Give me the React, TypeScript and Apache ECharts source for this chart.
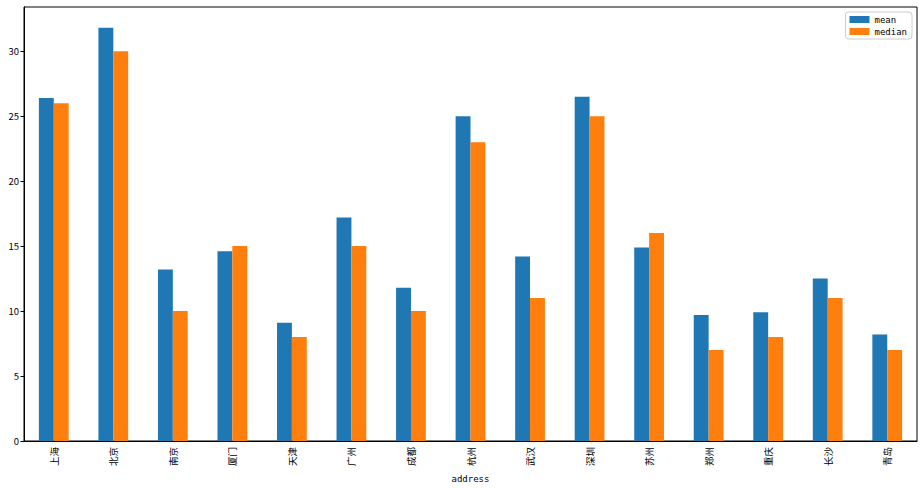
import React, { useEffect, useRef } from "react";
import * as echarts from "echarts";

const categories = ["上海", "北京", "南京", "厦门", "天津", "广州", "成都", "杭州", "武汉", "深圳", "苏州", "郑州", "重庆", "长沙", "青岛"];
const meanValues = [26.4, 31.8, 13.2, 14.6, 9.1, 17.2, 11.8, 25.0, 14.2, 26.5, 14.9, 9.7, 9.9, 12.5, 8.2];
const medianValues = [26, 30, 10, 15, 8, 15, 10, 23, 11, 25, 16, 7, 8, 11, 7];
const yTicks = [0, 5, 10, 15, 20, 25, 30];

const FONT = "'Noto Sans CJK SC', 'DejaVu Sans', sans-serif";
const MONO = "'DejaVu Sans Mono', 'Liberation Mono', monospace";

export default function App() {
  const ref = useRef<HTMLDivElement>(null);
  useEffect(() => {
    document.body.style.margin = "0";
    const chart = echarts.init(ref.current!, null, { renderer: "svg" });
    chart.setOption({
      animation: false,
      backgroundColor: "#fff",
      textStyle: { fontFamily: FONT },
      grid: {
        left: 24,
        right: 7,
        top: 7,
        bottom: 46,
        show: true,
        borderColor: "#000",
        borderWidth: 1,
        backgroundColor: "transparent",
      },
      legend: {
        orient: "vertical",
        right: 12,
        top: 12,
        itemWidth: 20,
        itemHeight: 7,
        itemGap: 3,
        borderColor: "#ccc",
        borderWidth: 1,
        borderRadius: 3,
        padding: [3, 5, 3, 4],
        icon: "rect",
        textStyle: { fontFamily: MONO, fontSize: 9, color: "#000" },
        data: ["mean", "median"],
      },
      xAxis: {
        type: "category",
        data: categories,
        boundaryGap: true,
        name: "address",
        nameLocation: "middle",
        nameGap: 33,
        nameTextStyle: { fontFamily: MONO, fontSize: 9, color: "#000" },
        axisLine: { lineStyle: { color: "#000", width: 1 } },
        axisTick: { alignWithLabel: true, length: 3.5, lineStyle: { color: "#000" } },
        axisLabel: { rotate: 90, fontSize: 9.5, color: "#000", fontFamily: FONT, margin: 6 },
        splitLine: { show: false },
      },
      yAxis: {
        type: "value",
        min: 0,
        max: 33.4,
        interval: 5,
        axisLine: { show: true, lineStyle: { color: "#000", width: 1 } },
        axisTick: { show: true, length: 3.5, lineStyle: { color: "#000" } },
        axisLabel: {
          fontSize: 9.5,
          color: "#000",
          fontFamily: FONT,
          margin: 5,
          showMaxLabel: false,
          formatter: (v: number) => (yTicks.includes(v) ? String(v) : ""),
        },
        splitLine: { show: false },
      },
      series: [
        {
          name: "mean",
          type: "bar",
          data: meanValues,
          barWidth: "25%",
          barGap: "0%",
          itemStyle: { color: "#1f77b4" },
        },
        {
          name: "median",
          type: "bar",
          data: medianValues,
          barWidth: "25%",
          barGap: "0%",
          itemStyle: { color: "#ff7f0e" },
        },
      ],
    });
    return () => chart.dispose();
  }, []);
  return <div ref={ref} style={{ width: 924, height: 488 }} />;
}
